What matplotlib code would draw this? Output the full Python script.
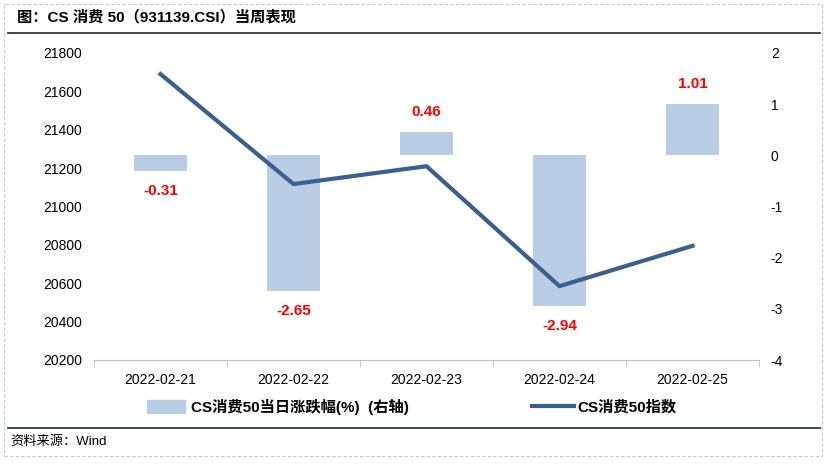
import matplotlib
matplotlib.use("Agg")
import matplotlib.pyplot as plt
from matplotlib.patches import Rectangle
from matplotlib.lines import Line2D
import numpy as np

plt.rcParams['font.family'] = ['Liberation Sans', 'Noto Sans CJK SC', 'DejaVu Sans']

dates = ["2022-02-21", "2022-02-22", "2022-02-23", "2022-02-24", "2022-02-25"]
pct_change = [-0.31, -2.65, 0.46, -2.94, 1.01]
index_close = [21690, 21117, 21210, 20585, 20795]
left_ticks = [20200, 20400, 20600, 20800, 21000, 21200, 21400, 21600, 21800]
right_ticks = [-4, -3, -2, -1, 0, 1, 2]

W, H = 830, 468
fig = plt.figure(figsize=(W / 100, H / 100), dpi=100)

def fx(px):
    return px / W

def fy(py):
    return 1 - py / H

# outer dashed border
fig.add_artist(Rectangle((fx(4), fy(456)), fx(818), (452) / H, transform=fig.transFigure,
                         fill=False, edgecolor='#c8c8c8', linestyle=(0, (3, 2)), linewidth=0.8))
# title and separators
fig.text(fx(17), fy(17), "图：CS 消费 50（931139.CSI）当周表现", fontsize=11, fontweight='bold',
         va='center', ha='left', color='#000000')
fig.add_artist(Line2D([fx(8), fx(820)], [fy(33), fy(33)], transform=fig.transFigure,
                      color='#2b3a4a', linewidth=1.3))
fig.add_artist(Line2D([fx(8), fx(820)], [fy(428), fy(428)], transform=fig.transFigure,
                      color='#2b3a4a', linewidth=1.3))
fig.text(fx(10), fy(442), "资料来源：Wind", fontsize=9.5, va='center', ha='left', color='#000000')

ax = fig.add_axes([fx(94), fy(360), fx(759 - 94), (360 - 53) / H])
ax2 = ax.twinx()

x = np.arange(len(dates))
bar_color = '#b9cde5'
line_color = '#3b5f8f'

ax2.bar(x, pct_change, width=0.4, color=bar_color, zorder=1)
for xi, v in zip(x, pct_change):
    off = 0.39
    ax2.text(xi, v + (off if v > 0 else -off), f"{v:.2f}", color='#ff0000', fontsize=11,
             fontweight='bold', ha='center', va='center')
ax2.set_ylim(-4, 2)
ax2.set_yticks(right_ticks)
ax2.set_yticklabels([str(t) for t in right_ticks], fontsize=10)

ax.plot(x, index_close, color=line_color, linewidth=3.0, zorder=5)
ax.set_zorder(ax2.get_zorder() + 1)
ax.patch.set_visible(False)
ax.set_ylim(20200, 21800)
ax.set_yticks(left_ticks)
ax.set_yticklabels([str(t) for t in left_ticks], fontsize=10)
ax.set_xlim(-0.5, len(dates) - 0.5)
ax.set_xticks(x)
ax.set_xticklabels(dates, fontsize=10)
ax.set_xticks(np.arange(-0.5, len(dates), 1.0), minor=True)
ax.tick_params(axis='x', which='major', length=0, pad=9)
ax.tick_params(axis='x', which='minor', length=5, color='#bfbfbf', direction='out')
ax.tick_params(axis='y', length=0, pad=8.5)
ax2.tick_params(axis='y', length=0, pad=8.5)

for a in (ax, ax2):
    for s in ('top', 'left', 'right'):
        a.spines[s].set_visible(False)
    a.spines['bottom'].set_color('#bfbfbf')
    a.spines['bottom'].set_linewidth(0.8)
ax2.spines['bottom'].set_visible(False)

leg_prop = {'weight': 'bold', 'size': 11}
leg1 = fig.legend([Rectangle((0, 0), 1, 1, color=bar_color)], ["CS消费50当日涨跌幅(%)  (右轴)"],
                  loc='center left', bbox_to_anchor=(fx(147), fy(407)), frameon=False,
                  prop=leg_prop, handlelength=2.5, handleheight=0.9, handletextpad=0.4,
                  borderpad=0, borderaxespad=0)
leg2 = fig.legend([Line2D([0], [0], color=line_color, linewidth=3.0)], ["CS消费50指数"],
                  loc='center left', bbox_to_anchor=(fx(532), fy(407)), frameon=False,
                  prop=leg_prop, handlelength=2.75, handletextpad=0.2,
                  borderpad=0, borderaxespad=0)

fig.savefig("out.png", dpi=100)
